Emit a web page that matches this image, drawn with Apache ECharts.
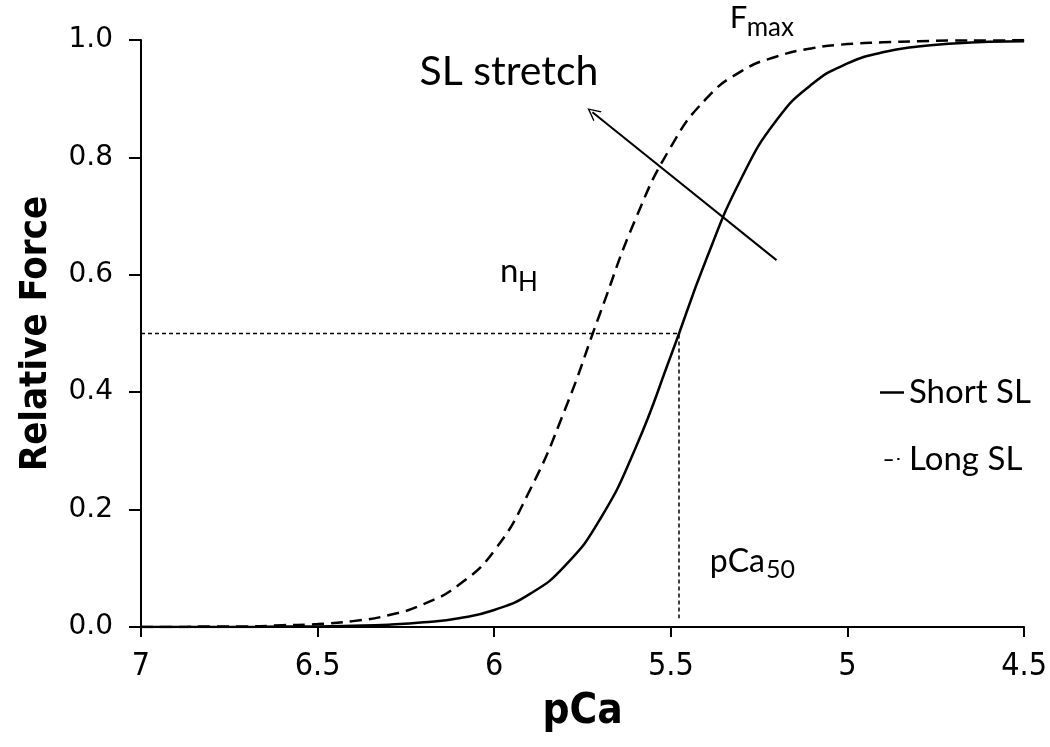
<!DOCTYPE html>
<html><head><meta charset="utf-8">
<script src="https://cdn.jsdelivr.net/npm/echarts@6/dist/echarts.min.js"></script>
<style>html,body{margin:0;padding:0;background:#fff}#c{width:1050px;height:747px}</style>
</head><body><div id="c"></div>
<script>
// pCa sample points
const pCa = [7.0,6.9,6.8,6.7,6.6,6.5,6.4,6.3,6.2,6.1,6.0,5.9,5.8,5.7,5.6,5.5,5.4,5.3,5.2,5.1,5.0,4.9,4.8,4.7,4.6,4.5];
// Relative force
const shortSL = [0.000,0.000,0.000,0.000,0.001,0.001,0.002,0.004,0.008,0.015,0.029,0.056,0.104,0.184,0.305,0.462,0.626,0.765,0.864,0.925,0.960,0.979,0.989,0.994,0.997,0.998];
const longSL  = [0.000,0.000,0.001,0.001,0.003,0.005,0.010,0.020,0.039,0.072,0.130,0.232,0.370,0.535,0.695,0.818,0.900,0.947,0.972,0.986,0.993,0.996,0.998,0.999,0.999,1.000];
const seriesNames = ['Short SL','Long SL'];
const xTickLabels = ['4.5','5','5.5','6','6.5','7'];
const yTickLabels = ['0.0','0.2','0.4','0.6','0.8','1.0'];
// pCa50 guide lines (half-maximal force for short SL)
const pCa50Short = 5.477;
const halfForce = 0.5;
const guideBottom = 0.015;
// SL stretch arrow: from [pCa, force] to [pCa, force]
const arrowFrom = [5.201, 0.625];
const arrowTo = [5.722, 0.877];
// annotation text pieces and their left-middle anchor points (data coords)
const annotationTexts = ['F', 'max', 'SL stretch', 'n', 'H', 'pCa', '50'];
const annotationAnchors = [[5.333, 1.037], [5.2855, 1.021], [6.2116, 0.946], [5.9837, 0.606], [5.933, 0.587], [5.3896, 0.112], [5.231, 0.097]];
const annotationSizes = [31, 26, 41, 33, 26, 32, 25];

const ANN_FONT = 'Lato, "Open Sans", sans-serif';
const NARROW = '"Liberation Sans Narrow", "DejaVu Sans Condensed", sans-serif';

const chart = echarts.init(document.getElementById('c'), null, {renderer: 'canvas'});
const option = {
  animation: false,
  backgroundColor: '#fff',
  grid: {left: 141, right: 21, top: 40, bottom: 120, containLabel: false},
  legend: {
    data: [
      {name: seriesNames[0], icon: 'path://M0,0 H24 V2.5 H0 Z'},
      {name: seriesNames[1], icon: 'path://M0,0 H11 V2.5 H0 Z M17,-1.5 H20 V1 H17 Z'}
    ],
    orient: 'vertical',
    left: 875, top: 371,
    itemWidth: 24, itemHeight: 3, itemGap: 34,
    textStyle: {fontFamily: ANN_FONT, fontSize: 33, color: '#000'}
  },
  xAxis: {
    type: 'value', min: 4.5, max: 7, interval: 0.5, inverse: true,
    axisLine: {onZero: false, lineStyle: {color: '#000', width: 2}},
    axisTick: {show: true, inside: false, length: 10, lineStyle: {color: '#000', width: 2}},
    splitLine: {show: false},
    axisLabel: {margin: 24, fontSize: 32, fontFamily: NARROW, color: '#000',
      formatter: v => xTickLabels[Math.round((v - 4.5) / 0.5)]},
    name: 'pCa', nameLocation: 'middle', nameGap: 64,
    nameTextStyle: {fontSize: 42, fontWeight: 'bold', fontFamily: NARROW, color: '#000'}
  },
  yAxis: {
    type: 'value', min: 0, max: 1, interval: 0.2,
    axisLine: {show: true, lineStyle: {color: '#000', width: 2}},
    axisTick: {show: true, inside: false, length: 12, lineStyle: {color: '#000', width: 2}},
    splitLine: {show: false},
    axisLabel: {margin: 28, fontSize: 28, fontFamily: '"DejaVu Sans", sans-serif', color: '#000',
      formatter: v => yTickLabels[Math.round(v / 0.2)]},
    name: 'Relative Force', nameLocation: 'middle', nameGap: 86,
    nameTextStyle: {fontSize: 38, fontWeight: 'bold', fontFamily: NARROW, color: '#000'}
  },
  series: [
    {
      name: seriesNames[0], type: 'line', symbol: 'none', smooth: 0.5,
      data: pCa.map((x, i) => [x, shortSL[i]]),
      lineStyle: {color: '#000', width: 2.5}, itemStyle: {color: '#000'}, z: 3
    },
    {
      name: seriesNames[1], type: 'line', symbol: 'none', smooth: 0.5,
      data: pCa.map((x, i) => [x, longSL[i]]),
      lineStyle: {color: '#000', width: 2.5, type: [12, 7]}, itemStyle: {color: '#000'}, z: 3
    },
    {
      name: 'guide', type: 'line', symbol: 'none',
      data: [[7, halfForce], [pCa50Short, halfForce], [pCa50Short, guideBottom]],
      lineStyle: {color: '#000', width: 1.5, type: [4, 3]}, z: 2,
      markLine: {
        silent: true, animation: false,
        symbol: ['none', 'path://M0,12 L6,0 L12,12 L10.6,12 L6,2.8 L1.4,12 Z'],
        symbolSize: [13, 13],
        lineStyle: {color: '#000', width: 2, type: 'solid'},
        label: {show: false},
        data: [[{coord: arrowFrom}, {coord: arrowTo}]]
      }
    },
    {
      name: 'annotations', type: 'scatter', symbolSize: 0, silent: true, clip: false,
      itemStyle: {color: '#000', opacity: 1},
      data: annotationTexts.map((t, i) => ({
        value: annotationAnchors[i],
        label: {formatter: t, fontSize: annotationSizes[i]}
      })),
      label: {
        show: true, position: [0, 0], align: 'left', verticalAlign: 'middle',
        color: '#000', opacity: 1, fontFamily: ANN_FONT, textBorderWidth: 0
      }
    }
  ]
};
chart.setOption(option);
</script>
</body></html>
